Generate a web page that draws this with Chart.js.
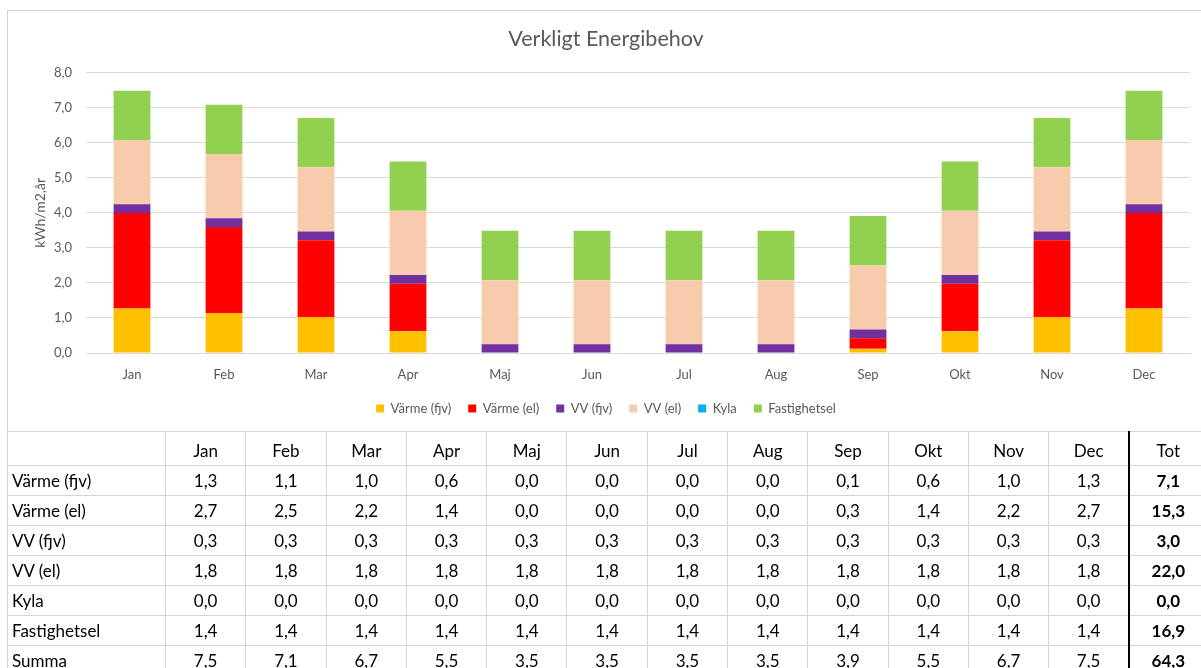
<!DOCTYPE html>
<html><head><meta charset="utf-8">
<script src="https://cdn.jsdelivr.net/npm/chart.js@4.4.1/dist/chart.umd.min.js"></script>
<style>
body{margin:0;background:#fff;width:1201px;height:668px;overflow:hidden;position:relative;font-family:Lato,"Open Sans",sans-serif;}
#box{position:absolute;left:7px;top:10px;width:1200px;height:421px;border-left:1px solid #d0d0d0;border-top:1px solid #d0d0d0;}
#wrap{position:absolute;left:7px;top:10px;width:1194px;height:422px;}
table{position:absolute;left:7px;top:431px;border-collapse:collapse;table-layout:fixed;width:1200px;}
td{border:1px solid #d4d4d4;height:29px;padding:0;text-align:center;font-size:17px;color:#000;white-space:nowrap;}
td.lab{text-align:left;padding-left:4px;}
tr.hdr td{height:30px;padding-top:3px;}
tr.sum td{border-top:1px solid #404040;}
td.tot{border-left:2px solid #000;font-weight:bold;}
</style>
</head><body>
<div id="box"></div>
<div id="wrap"><canvas id="c" width="1194" height="422"></canvas></div>
<table id="tbl"></table>
<script>
const months = ["Jan","Feb","Mar","Apr","Maj","Jun","Jul","Aug","Sep","Okt","Nov","Dec"];
const seriesNames = ["Värme (fjv)","Värme (el)","VV (fjv)","VV (el)","Kyla","Fastighetsel"];
const varmeFjv   = [1.27,1.14,1.02,0.62,0,0,0,0,0.12,0.62,1.02,1.27];
const varmeEl    = [2.73,2.46,2.20,1.36,0,0,0,0,0.30,1.36,2.20,2.73];
const vvFjv      = [0.25,0.25,0.25,0.25,0.25,0.25,0.25,0.25,0.25,0.25,0.25,0.25];
const vvEl       = [1.83,1.83,1.83,1.83,1.83,1.83,1.83,1.83,1.83,1.83,1.83,1.83];
const kyla       = [0,0,0,0,0,0,0,0,0,0,0,0];
const fastighetsel = [1.41,1.41,1.41,1.41,1.41,1.41,1.41,1.41,1.41,1.41,1.41,1.41];
const yTicks = [0,1,2,3,4,5,6,7,8];
const colors = ["#FFC000","#FF0000","#7030A0","#F8CBAD","#00B0F0","#92D050"];
const allSeries = [varmeFjv,varmeEl,vvFjv,vvEl,kyla,fastighetsel];

const FONT = 'Lato, "Open Sans", sans-serif';
const GREY = '#595959';
const fmt = v => (Math.round(v*10+1e-9)/10).toFixed(1).replace('.',',');

new Chart(document.getElementById('c'), {
  type:'bar',
  data:{
    labels: months,
    datasets: allSeries.map((d,i)=>({
      label: seriesNames[i], data: d, backgroundColor: colors[i], borderWidth:0,
      categoryPercentage:1.0, barPercentage:0.4, yAxisID:'y'
    }))
  },
  options:{
    responsive:false, animation:false, devicePixelRatio:1,
    layout:{padding:{left:4,right:0,top:0,bottom:7}},
    plugins:{
      title:{display:true,text:'Verkligt Energibehov',color:GREY,
        font:{family:FONT,size:21.5,weight:'normal'},padding:{top:16,bottom:21}},
      legend:{position:'bottom',
        labels:{boxWidth:8,boxHeight:8,padding:17,color:GREY,font:{family:FONT,size:13}}},
      tooltip:{enabled:false}
    },
    scales:{
      x:{stacked:true,grid:{display:false},border:{color:'#d9d9d9'},
        ticks:{padding:6,color:GREY,font:{family:FONT,size:13}},
        afterFit(s){s.height=32;}},
      y:{stacked:true,min:yTicks[0],max:yTicks[yTicks.length-1],
        afterBuildTicks(s){s.ticks=yTicks.map(v=>({value:v}));},
        ticks:{padding:14,color:GREY,font:{family:FONT,size:13},callback:v=>fmt(v)},
        grid:{color:'#d9d9d9',drawTicks:false},border:{display:false},
        title:{display:true,text:'kWh/m2,år',color:GREY,font:{family:FONT,size:14},padding:{top:21,bottom:0}},
        afterFit(s){s.width=75;}},
      yR:{position:'right',display:true,min:0,max:8,
        grid:{display:false,drawOnChartArea:false},border:{display:false},
        ticks:{display:false},afterFit(s){s.width=11;}}
    }
  }
});

// table
const tbl = document.getElementById('tbl');
let html = '<colgroup><col style="width:158px">';
for(let i=0;i<12;i++) html += '<col style="width:80.3px">';
html += '<col style="width:78px"></colgroup>';
html += '<tr class="hdr"><td class="lab"></td>' + months.map(m=>'<td>'+m+'</td>').join('') + '<td class="tot" style="font-weight:normal">Tot</td></tr>';
allSeries.forEach((d,i)=>{
  const tot = d.reduce((a,b)=>a+b,0);
  html += '<tr><td class="lab">'+seriesNames[i]+'</td>' + d.map(v=>'<td>'+fmt(v)+'</td>').join('') + '<td class="tot">'+fmt(tot)+'</td></tr>';
});
const sums = months.map((m,j)=>allSeries.reduce((a,s)=>a+s[j],0));
const grand = sums.reduce((a,b)=>a+b,0);
html += '<tr class="sum"><td class="lab">Summa</td>' + sums.map(v=>'<td>'+fmt(v)+'</td>').join('') + '<td class="tot">'+fmt(grand)+'</td></tr>';
tbl.innerHTML = html;
</script>
</body></html>
